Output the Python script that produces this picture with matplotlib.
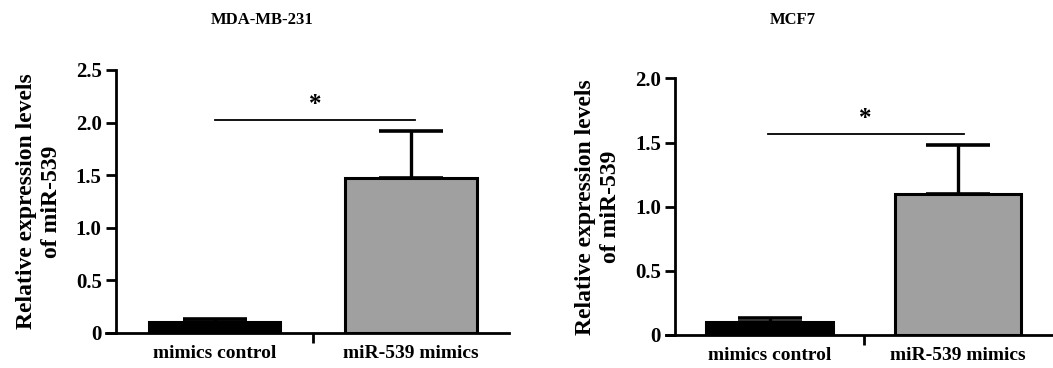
import matplotlib.pyplot as plt

plt.rcParams['font.family'] = 'Liberation Serif'
plt.rcParams['font.weight'] = 'bold'

grupos = ['mimics control', 'miR-539 mimics']
titulos = ['MDA-MB-231', 'MCF7']
medias_mda = [0.10, 1.47]
error_mda = [0.035, 0.45]
medias_mcf = [0.10, 1.10]
error_mcf = [0.03, 0.38]
colores = ['black', '#a0a0a0']
ticks_mda = [0, 0.5, 1.0, 1.5, 2.0, 2.5]
ticks_mcf = [0, 0.5, 1.0, 1.5, 2.0]
signif_mda = 2.025
signif_mcf = 1.565

fig = plt.figure(figsize=(10.53, 3.68), dpi=100)


def dibujar_panel(pos, medias, errores, ticks, y_signif, sig_x, titulo, titulo_x):
    ax = fig.add_axes(pos)
    xs = [0, 1]
    ax.bar(xs, medias, width=0.67, color=colores, edgecolor='black', linewidth=2.2, zorder=2)
    ax.errorbar(xs, medias, yerr=[[0, 0], errores], fmt='none', ecolor='black',
                elinewidth=2.4, capsize=23, capthick=2.6, zorder=1)
    ax.set_xlim(-0.55, 1.5)
    ax.set_ylim(0, ticks[-1])
    ax.spines['top'].set_visible(False)
    ax.spines['right'].set_visible(False)
    ax.spines['left'].set_position(('data', -0.5))
    ax.spines['left'].set_linewidth(2)
    ax.spines['bottom'].set_linewidth(2)
    ax.set_yticks(ticks)
    ax.set_yticklabels(['0' if t == 0 else '%.1f' % t for t in ticks], fontsize=15)
    ax.set_xticks([0.5])
    ax.set_xticklabels([''])
    ax.tick_params(axis='both', width=2, length=7, direction='out')
    for x, g in zip(xs, grupos):
        ax.text(x, -0.045, g, transform=ax.get_xaxis_transform(), ha='center', va='top', fontsize=14)
    ax.plot(sig_x, [y_signif, y_signif], color='black', linewidth=1.3, clip_on=False)
    ax.text(sum(sig_x) / 2, y_signif + ticks[-1] * 0.015, '*', ha='center', va='bottom', fontsize=18)
    ax.set_ylabel('Relative expression levels\nof miR-539', fontsize=17, fontweight='bold',
                  labelpad=10, linespacing=1.25)
    fig.text(titulo_x, 0.945, titulo, ha='center', va='center', fontsize=12)
    return ax


dibujar_panel([106.4 / 1053, 0.0959, 403 / 1053, 0.714], medias_mda, error_mda, ticks_mda,
              signif_mda, [0.0, 1.02], titulos[0], 262 / 1053)
dibujar_panel([666 / 1053, 0.0897, 386 / 1053, 0.697], medias_mcf, error_mcf, ticks_mcf,
              signif_mcf, [-0.01, 1.03], titulos[1], 793 / 1053)

fig.savefig('out.png', dpi=100)
